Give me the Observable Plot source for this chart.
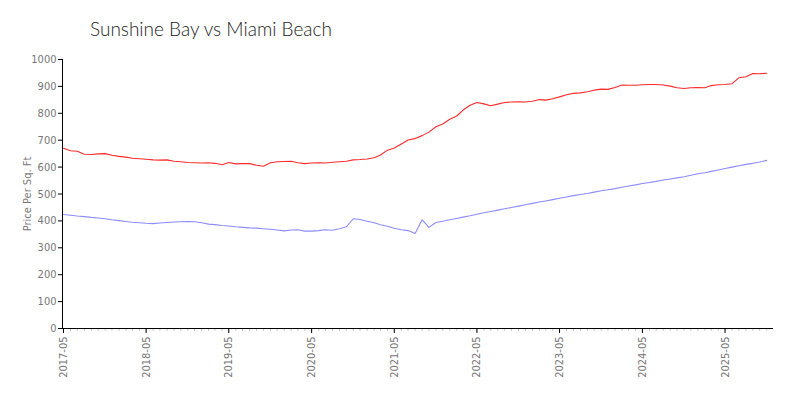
<!DOCTYPE html>
<html>
<head>
<meta charset="utf-8">
<script src="https://cdn.jsdelivr.net/npm/d3@7"></script>
<script src="https://cdn.jsdelivr.net/npm/@observablehq/plot@0.6"></script>
<style>
  body { margin: 0; background: #fff; }
  #title { height: 48px; box-sizing: border-box; padding: 18px 0 0 90px; font: 300 19px "Lato", "Open Sans", sans-serif; color: #222; line-height: 21px; }
</style>
</head>
<body>
<div id="title">Sunshine Bay vs Miami Beach</div>
<div id="chart"></div>
<script>
// Monthly series starting 2017-05
const startMonth = "2017-05";
const miamiBeach = [670,661,659,648,647,649,650,644,640,637,633,631,629,627,626,627,622,620,617,616,615,616,614,609,617,612,613,613,607,603,616,620,621,622,616,613,615,616,615,618,620,622,627,628,630,635,645,663,671,686,701,706,717,730,750,760,778,790,812,830,840,835,828,834,840,842,843,842,845,851,849,854,861,869,874,876,880,886,890,889,896,905,904,904,906,907,907,905,901,895,892,895,896,895,903,906,907,910,932,936,948,947,949];
const sunshineBay = [424,421,418,416,413,411,408,404,401,398,395,393,391,390,392,394,396,397,398,397,393,388,386,383,381,378,376,374,373,371,369,366,363,366,367,362,362,364,367,365,371,378,408,405,399,393,386,380,373,367,364,353,404,376,394,399,404,409,414,419,425,430,435,440,445,450,455,460,465,470,474,479,484,489,494,498,502,507,512,516,520,525,530,534,539,543,547,552,556,560,564,570,575,579,584,589,595,600,605,610,614,619,625];
const xTickLabels = ["2017-05","2018-05","2019-05","2020-05","2021-05","2022-05","2023-05","2024-05","2025-05"];
const yTicks = [0,100,200,300,400,500,600,700,800,900,1000];
const seriesNames = ["Miami Beach", "Sunshine Bay"];
const seriesColors = ["#ff2a2a", "#8c8cff"];

const parse = d3.utcParse("%Y-%m");
const start = parse(startMonth);
const rows = [];
[miamiBeach, sunshineBay].forEach((vals, s) => {
  vals.forEach((v, i) => rows.push({date: d3.utcMonth.offset(start, i), value: v, series: seriesNames[s]}));
});
const end = d3.utcMonth.offset(start, miamiBeach.length);
const monthTicks = d3.utcMonth.range(start, end);
const xTicks = xTickLabels.map(parse);

const plot = Plot.plot({
  width: 800,
  height: 352,
  marginTop: 11,
  marginBottom: 72,
  marginLeft: 63,
  marginRight: 27,
  style: {fontFamily: "'Liberation Sans Narrow', 'DejaVu Sans Condensed', sans-serif", fontSize: "11px", color: "#666", background: "#fff"},
  x: {type: "utc", domain: [start, end]},
  y: {domain: [0, 1000]},
  color: {domain: seriesNames, range: seriesColors},
  marks: [
    Plot.axisX(monthTicks, {tickSize: 3, stroke: "#c8c8c8", tickFormat: () => "", label: null}),
    Plot.axisX(xTicks, {tickSize: 5, stroke: "#000", fill: "#777", tickRotate: -90, tickPadding: 3, tickFormat: d3.utcFormat("%Y-%m"), label: null}),
    Plot.axisY(yTicks, {tickSize: 5, stroke: "#000", fill: "#777", tickPadding: 2, tickFormat: d3.format("d"), label: "Price Per Sq. Ft", labelAnchor: "center", labelArrow: "none", labelOffset: 40}),
    Plot.ruleY([0], {stroke: "#000"}),
    Plot.ruleX([start], {stroke: "#000", dx: -1}),
    Plot.lineY(rows, {x: "date", y: "value", stroke: "series", strokeWidth: 1.1})
  ]
});
document.getElementById("chart").appendChild(plot);
</script>
</body>
</html>
